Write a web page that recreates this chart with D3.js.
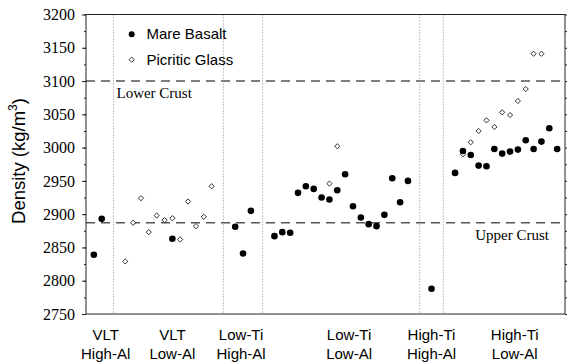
<!DOCTYPE html>
<html><head><meta charset="utf-8">
<script src="https://cdn.jsdelivr.net/npm/d3@7"></script>
<style>html,body{margin:0;padding:0;background:#fff;}svg{display:block;}</style>
</head><body>
<script>
// ---- data ----
const basaltIdx = [0,1,10,18,19,20,23,24,25,26,27,28,29,30,31,32,33,34,35,36,37,38,39,40,43,46,47,48,49,50,51,52,53,54,55,56,57,58,59];
const basaltDensity = [2839,2893,2863,2881,2841,2905,2867,2873,2872,2932,2942,2938,2925,2922,2936,2960,2912,2895,2885,2882,2899,2954,2918,2950,2788,2962,2995,2989,2973,2972,2998,2991,2994,2997,3011,2998,3009,3029,2998];
const glassIdx = [4,5,6,7,8,9,10,11,12,13,14,15,30,31,47,48,49,50,51,52,53,54,55,56,57];
const glassDensity = [2829,2887,2924,2873,2898,2891,2894,2862,2919,2882,2896,2942,2946,3002,2990,3008,3025,3041,3031,3053,3049,3070,3088,3141,3141];
const groupLines1 = ["VLT","VLT","Low-Ti","Low-Ti","High-Ti","High-Ti"];
const groupLines2 = ["High-Al","Low-Al","High-Al","Low-Al","High-Al","Low-Al"];
const groupPos = [1.5,10,18.75,32.5,43,53.6];
const dividers = [2.5,16.5,21.5,41.5,44.5];
const crustLevels = [3100,2887];
const crustNames = ["Lower Crust","Upper Crust"];
const yTicks = [2750,2800,2850,2900,2950,3000,3050,3100,3150,3200];
const yMinorTicks = d3.range(2750,3201,25);
const legendNames = ["Mare Basalt","Picritic Glass"];

// ---- layout ----
const W = 567, H = 362;
const L = 86, R = 565, T = 14.5, B = 314;
const serif = "'Liberation Serif','Times New Roman',serif";
const sans = "'Liberation Sans',Arial,sans-serif";

const svg = d3.select("body").append("svg").attr("width", W).attr("height", H);
const x = d3.scaleLinear().domain([-1,60]).range([L,R]);
const y = d3.scaleLinear().domain([2750,3200]).range([B,T]);

// reference dashed lines
svg.selectAll("line.crust").data(crustLevels).join("line")
  .attr("x1", L).attr("x2", R).attr("y1", d=>y(d)).attr("y2", d=>y(d))
  .attr("stroke", "#555").attr("stroke-width", 1.5).attr("stroke-dasharray", "9,6");

// dotted dividers
svg.selectAll("line.div").data(dividers).join("line")
  .attr("x1", d=>x(d)).attr("x2", d=>x(d)).attr("y1", T).attr("y2", B)
  .attr("stroke", "#888").attr("stroke-width", 1).attr("stroke-dasharray", "1,2");

// crust labels
svg.append("text").attr("x", x(dividers[0]) + 3).attr("y", y(crustLevels[0]) + 17)
  .attr("font-family", serif).attr("font-size", 15).text(crustNames[0]);
svg.append("text").attr("x", x(60) - 16).attr("y", y(crustLevels[1]) + 17)
  .attr("text-anchor","end").attr("font-family", serif).attr("font-size", 15).text(crustNames[1]);

// frame
svg.append("rect").attr("x", L).attr("y", T).attr("width", R-L).attr("height", B-T)
  .attr("fill","none").attr("stroke","#222").attr("stroke-width",1);

// left axis
const yAxis = d3.axisLeft(y).tickValues(yTicks).tickSize(4).tickPadding(7).tickFormat(d3.format("d"));
const ga = svg.append("g").attr("transform", `translate(${L},0)`).call(yAxis);
ga.select(".domain").remove();
ga.selectAll("text").attr("font-family", serif).attr("font-size", 16).attr("fill","#000");
ga.selectAll("line").attr("stroke","#222");
svg.append("g").attr("transform", `translate(${L},0)`)
  .call(d3.axisLeft(y).tickValues(yMinorTicks).tickSize(2).tickFormat(""))
  .call(g=>g.select(".domain").remove()).selectAll("line").attr("stroke","#222");
// right axis ticks
svg.append("g").attr("transform", `translate(${R},0)`)
  .call(d3.axisRight(y).tickValues(yMinorTicks).tickSize(3).tickFormat(""))
  .call(g=>g.select(".domain").remove()).selectAll("line").attr("stroke","#222");

// y title
const yt = svg.append("text").attr("transform", `translate(25,161) rotate(-90)`)
  .attr("text-anchor","middle").attr("font-family", sans).attr("font-size", 18.5);
yt.append("tspan").text("Density (kg/m");
yt.append("tspan").attr("font-size", 12).attr("dy", -8).text("3");
yt.append("tspan").attr("dy", 8).text(")");

// category labels
const cat = svg.append("g").attr("font-family", sans).attr("font-size", 15).attr("text-anchor","middle");
cat.selectAll("text.l1").data(groupPos).join("text").attr("x", d=>x(d)).attr("y", 340).text((d,i)=>groupLines1[i]);
cat.selectAll("text.l2").data(groupPos).join("text").attr("x", d=>x(d)).attr("y", 359).text((d,i)=>groupLines2[i]);

// points
const diamond = (cx, cy, r) => `M${cx},${cy-r}L${cx+r},${cy}L${cx},${cy+r}L${cx-r},${cy}Z`;
svg.append("g").selectAll("path").data(glassIdx).join("path")
  .attr("d", (d,i)=>diamond(x(d), y(glassDensity[i]), 2.6))
  .attr("fill","#fff").attr("stroke","#000").attr("stroke-width",0.8);
svg.append("g").selectAll("circle").data(basaltIdx).join("circle")
  .attr("cx", d=>x(d)).attr("cy", (d,i)=>y(basaltDensity[i])).attr("r", 3.3).attr("fill","#000");

// legend
svg.append("circle").attr("cx", 131.7).attr("cy", 34.3).attr("r", 3).attr("fill","#000");
svg.append("path").attr("d", diamond(131.7, 59.7, 2.6)).attr("fill","#fff").attr("stroke","#000").attr("stroke-width",0.8);
svg.append("text").attr("x", 146.5).attr("y", 39).attr("font-family", sans).attr("font-size", 15).text(legendNames[0]);
svg.append("text").attr("x", 146.5).attr("y", 64.5).attr("font-family", sans).attr("font-size", 15).text(legendNames[1]);
</script>
</body></html>
